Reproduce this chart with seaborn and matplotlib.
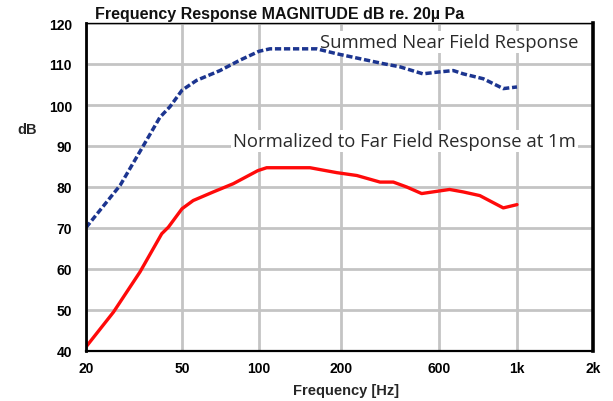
import numpy as np
import pandas as pd
import matplotlib
matplotlib.use("Agg")
import matplotlib.pyplot as plt
import seaborn as sns

# ---- data ----
near_freq = [20, 27.7, 34.6, 40.5, 44.6, 50, 57, 70.4, 84, 100, 109.7, 162.8, 192.9,
             247, 320, 388, 501, 585, 659, 703, 802, 914, 1000]
near_db = [70.1, 80.4, 90.1, 97.0, 99.6, 103.6, 106.0, 108.4, 110.9, 113.1, 113.7, 113.7,
           112.5, 111.3, 110.1, 109.3, 107.6, 108.0, 108.4, 107.6, 106.4, 104.0, 104.4]

far_freq = [20, 26, 33.5, 41.2, 43.9, 50, 55.3, 66.3, 79.3, 99, 106.7, 153.9, 193,
            239, 309.7, 359.6, 417.8, 494, 643, 703, 784, 914, 1000]
far_db = [41.0, 49.5, 59.3, 68.6, 70.2, 74.7, 76.7, 78.8, 80.8, 84.0, 84.7, 84.7, 83.5,
          82.8, 81.2, 81.2, 80.0, 78.4, 79.4, 78.8, 77.9, 74.9, 75.7]

x_ticks = [20, 50, 100, 200, 600, 1000, 2000]
x_tick_labels = ["20", "50", "100", "200", "600", "1k", "2k"]
x_tick_pos = [0, 96, 173, 255, 353, 431, 507]   # uneven spacing of the original axis
y_ticks = [40, 50, 60, 70, 80, 90, 100, 110, 120]

near_label = "Summed Near Field Response"
far_label = "Normalized to Far Field Response at 1m"
title = "Frequency Response MAGNITUDE dB re. 20\u00b5 Pa"

# ---- figure ----
sns.set_theme(style="white")
plt.rcParams["font.family"] = ["Liberation Sans", "DejaVu Sans"]

fig = plt.figure(figsize=(6.13, 4.02), dpi=100)
ax = fig.add_axes([86 / 613, 1 - 352 / 402, (593 - 86) / 613, (352 - 24) / 402])

lt = np.log10(x_ticks)
def fwd(f):
    f = np.clip(np.asarray(f, dtype=float), 1e-6, None)
    return np.interp(np.log10(f), lt, x_tick_pos)
def inv(p):
    return 10 ** np.interp(np.asarray(p, dtype=float), x_tick_pos, lt)

ax.set_xscale("function", functions=(fwd, inv))

df_near = pd.DataFrame({"freq": near_freq, "db": near_db})
df_far = pd.DataFrame({"freq": far_freq, "db": far_db})

sns.lineplot(data=df_far, x="freq", y="db", ax=ax, color="#ff0a0a", lw=2.4,
             sort=False, zorder=4)
sns.lineplot(data=df_near, x="freq", y="db", ax=ax, color="#1c3590", lw=2.5,
             sort=False, zorder=4, dashes=False)
ax.lines[-1].set_dashes([1.8, 0.8])

ax.set_xlim(20, 2000)
ax.set_ylim(40, 120)
ax.set_xticks(x_ticks)
ax.set_xticklabels(x_tick_labels)
ax.set_yticks(y_ticks)
ax.xaxis.set_minor_locator(matplotlib.ticker.NullLocator())

ax.grid(True, color="#c4c4c4", lw=2.0)
ax.set_axisbelow(True)
for side, lw in [("left", 2.0), ("right", 2.6), ("bottom", 1.6), ("top", 1.0)]:
    ax.spines[side].set_color("black")
    ax.spines[side].set_linewidth(lw)
    ax.spines[side].set_zorder(5)

ax.tick_params(axis="y", length=0, labelsize=10, pad=10, colors="black")
ax.tick_params(axis="x", length=0, labelsize=10, pad=7, colors="black")
for lab in ax.get_xticklabels() + ax.get_yticklabels():
    lab.set_fontweight("bold")
ax.set_xlabel("")
ax.set_ylabel("")

bbox = dict(facecolor="white", edgecolor="none", pad=1.5)
ax.text(0.4615, 0.942, near_label, transform=ax.transAxes, ha="left", va="center",
        fontsize=13.3, family=["Open Sans", "DejaVu Sans"], color="#2a2a2a",
        bbox=bbox, zorder=3)
ax.text(0.29, 0.640, far_label, transform=ax.transAxes, ha="left", va="center",
        fontsize=13.3, family=["Open Sans", "DejaVu Sans"], color="#2a2a2a",
        bbox=bbox, zorder=3)

fig.text(95 / 613, 1 - 15 / 402, title, ha="left", va="center", fontsize=11.5,
         fontweight="bold", color="#111111")
fig.text(27 / 613, 1 - 130 / 402, "dB", ha="center", va="center", fontsize=10.5,
         fontweight="bold")
fig.text(346 / 613, 1 - 391 / 402, "Frequency [Hz]", ha="center", va="center",
         fontsize=10.5, fontweight="bold")

fig.savefig("out.png", dpi=100)
